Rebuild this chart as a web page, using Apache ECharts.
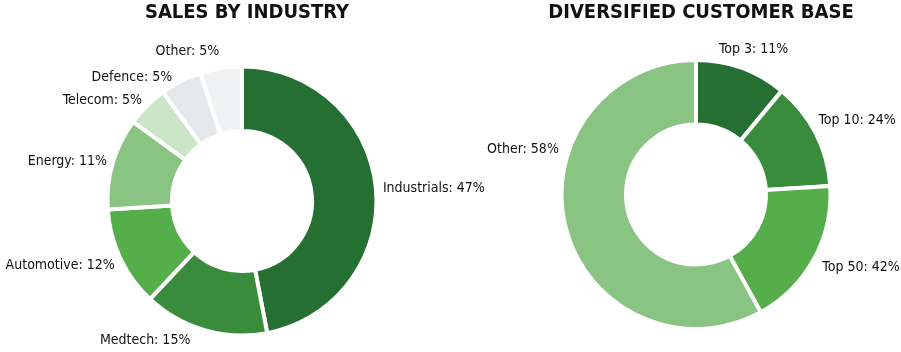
<!DOCTYPE html>
<html>
<head>
<meta charset="utf-8">
<script src="https://cdn.jsdelivr.net/npm/echarts@6/dist/echarts.min.js"></script>
<style>
  html, body { margin: 0; padding: 0; background: #fff; }
  #chart { width: 901px; height: 352px; }
</style>
</head>
<body>
<div id="chart"></div>
<script>
// data
const industryNames = ["Industrials", "Medtech", "Automotive", "Energy", "Telecom", "Defence", "Other"];
const industryValues = [47, 15, 12, 11, 5, 5, 5];
const customerNames = ["Top 3", "Top 10", "Top 50", "Other"];
const customerShares = [11, 13, 18, 58];        // slice sizes
const customerLabels = [11, 24, 42, 58];        // cumulative % shown on labels

// colours
const greens = ["#266f32", "#3a8c3d", "#55ae4a", "#89c482", "#cbe4c8", "#e4e8eb", "#eff1f3"];

// label nudges (px) from the default outside position, per series
const labelNudge = [
  [[-1, 0], [-9, 6], [2, 5], [2, -1], [2, -3], [-3, 0], [3, -13]],
  [[-28, -15], [-5, -11], [1, 6], [1, -80]],
];

const labelFont = "'Liberation Sans Narrow', 'DejaVu Sans Condensed', sans-serif";
const titleFont = "'DejaVu Sans Condensed', 'Liberation Sans Narrow', sans-serif";

const chart = echarts.init(document.getElementById("chart"));

const pieBase = {
  type: "pie",
  radius: [70, 134.5],
  startAngle: 90,
  clockwise: true,
  avoidLabelOverlap: false,
  silent: true,
  itemStyle: { borderColor: "#fff", borderWidth: 4 },
  label: {
    show: true,
    position: "outside",
    color: "#111",
    fontFamily: labelFont,
    fontSize: 14,
    distanceToLabelLine: 4,
  },
  labelLine: { show: false, length: 4, length2: 0 },
  labelLayout: (p) => {
    const n = labelNudge[p.seriesIndex][p.dataIndex];
    return {
      x: p.labelRect.x + n[0],
      y: p.labelRect.y + n[1],
      align: "left",
      verticalAlign: "top",
      hideOverlap: false,
      moveOverlap: false,
    };
  },
};

const titleStyle = { fontFamily: titleFont, fontWeight: "bold", fontSize: 20, color: "#111" };

chart.setOption({
  animation: false,
  title: [
    { text: "SALES BY INDUSTRY", left: 242, top: -2, textAlign: "center", textStyle: titleStyle },
    { text: "DIVERSIFIED CUSTOMER BASE", left: 696, top: -2, textAlign: "center", textStyle: titleStyle },
  ],
  series: [
    Object.assign({}, pieBase, {
      name: "industry",
      center: [242, 201],
      label: Object.assign({}, pieBase.label, { formatter: "{b}: {c}%" }),
      data: industryNames.map((n, i) => ({
        name: n, value: industryValues[i], itemStyle: { color: greens[i] },
      })),
    }),
    Object.assign({}, pieBase, {
      name: "customers",
      center: [696, 194.5],
      label: Object.assign({}, pieBase.label, {
        formatter: (p) => p.name + ": " + customerLabels[p.dataIndex] + "%",
      }),
      data: customerNames.map((n, i) => ({
        name: n, value: customerShares[i], itemStyle: { color: greens[i] },
      })),
    }),
  ],
});
</script>
</body>
</html>
